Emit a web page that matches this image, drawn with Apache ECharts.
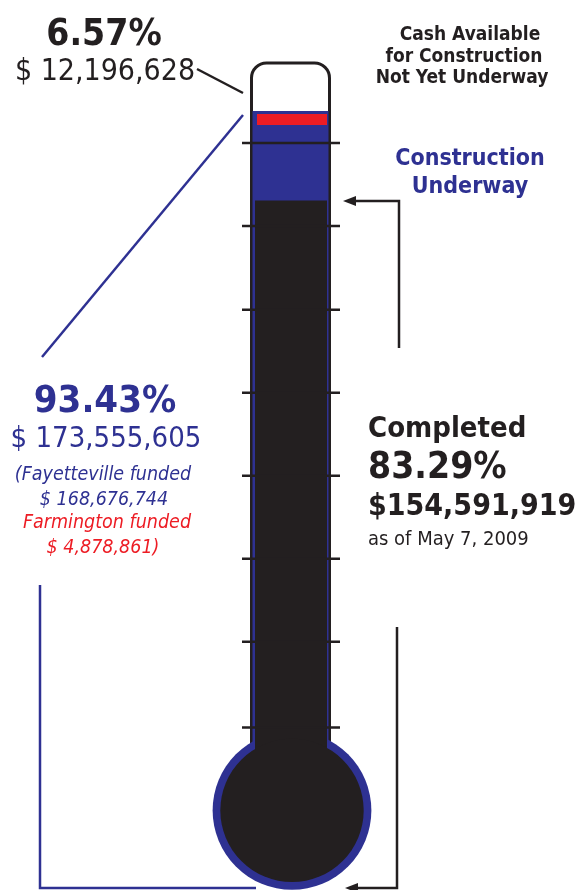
<!DOCTYPE html>
<html>
<head>
<meta charset="utf-8">
<script src="https://cdn.jsdelivr.net/npm/echarts@6/dist/echarts.min.js"></script>
<style>
  html, body { margin: 0; padding: 0; background: #fff; }
  #chart { width: 579px; height: 890px; }
</style>
</head>
<body>
<div id="chart"></div>
<script>
// fund thermometer, values in % of the total program
const categories = ["Program"];
const completedLevel = [83.29];
const underwayLevel = [93.43];
const capacityLevel = [100];
const farmingtonBand = [91.85, 93.1]; // red strip inside the underway part
const tickLevels = [23.6, 33.3, 42.7, 52.1, 61.5, 70.9, 80.4, 89.8];
const bulbLevel = [14.2];

const cashLines = ["Cash Available", "for Construction", "Not Yet Underway"];
const underwayLines = ["Construction", "Underway"];
const fundedLines = ["(Fayetteville funded", "$ 168,676,744", "Farmington funded", "$ 4,878,861)"];
const completedLines = ["Completed", "83.29%", "$154,591,919", "as of May 7, 2009"];

const BLACK = "#231f20";
const BLUE = "#2e3192";
const RED = "#ed1c24";
const FONT = "'DejaVu Sans Condensed', 'DejaVu Sans', sans-serif";

const chart = echarts.init(document.getElementById("chart"));

function band(api) {
  const xc = api.coord([0, 50])[0];
  const w = api.size([1, 0])[0];
  return { xc, w, left: xc - w / 2, right: xc + w / 2 };
}

function bulbY(api) {
  return api.coord([0, bulbLevel[0]])[1];
}

function renderTube(params, api) {
  const b = band(api);
  const top = api.coord([0, api.value(1)])[1] + 10;
  const cy = bulbY(api);
  return {
    type: "rect",
    shape: { x: b.left + 1.5, y: top, width: b.w - 3, height: cy - top, r: [15, 15, 0, 0] },
    style: { fill: "#fff", stroke: BLACK, lineWidth: 3 },
  };
}

function renderBulbRing(params, api) {
  const b = band(api);
  return {
    type: "circle",
    shape: { cx: b.xc + 1.5, cy: api.coord([0, api.value(1)])[1], r: b.w * 0.98 },
    style: { fill: BLUE },
  };
}

function renderBulbCore(params, api) {
  const b = band(api);
  return {
    type: "circle",
    shape: { cx: b.xc + 1.5, cy: api.coord([0, api.value(1)])[1], r: b.w * 0.885 },
    style: { fill: BLACK },
  };
}

function renderUnderway(params, api) {
  const b = band(api);
  const top = api.coord([0, api.value(1)])[1];
  const cy = bulbY(api);
  return {
    type: "rect",
    shape: { x: b.left + 2.5, y: top, width: b.w - 5, height: cy - top },
    style: { fill: BLUE },
  };
}

function renderCompleted(params, api) {
  const b = band(api);
  const top = api.coord([0, api.value(1)])[1];
  const cy = bulbY(api);
  return {
    type: "rect",
    shape: { x: b.left + 5, y: top, width: b.w - 9, height: cy - top },
    style: { fill: BLACK },
  };
}

function renderStrip(params, api) {
  const b = band(api);
  const y0 = api.coord([0, api.value(2)])[1];
  const y1 = api.coord([0, api.value(1)])[1];
  return {
    type: "rect",
    shape: { x: b.left + 7, y: y0, width: b.w - 11, height: y1 - y0 },
    style: { fill: RED },
  };
}

function renderTick(params, api) {
  const b = band(api);
  const y = api.coord([0, api.value(1)])[1];
  return {
    type: "line",
    shape: { x1: b.left - 8, y1: y, x2: b.right + 9, y2: y },
    style: { stroke: BLACK, lineWidth: 2.5 },
  };
}

function custom(name, data, renderItem) {
  return { type: "custom", name, data, renderItem, silent: true, clip: false };
}

function txt(text, x, y, size, opts) {
  return {
    type: "text",
    x,
    y,
    style: Object.assign(
      {
        text,
        fontFamily: FONT,
        fontSize: size,
        fontWeight: "normal",
        fill: BLACK,
        textAlign: "center",
        textVerticalAlign: "middle",
      },
      opts || {}
    ),
  };
}

function arrowLine(points, color) {
  return {
    type: "polyline",
    shape: { points },
    style: { stroke: color, lineWidth: 2.5, fill: null },
  };
}

function arrowHead(x, y) {
  return {
    type: "polygon",
    shape: { points: [[x, y], [x + 13, y - 5], [x + 13, y + 5]] },
    style: { fill: BLACK },
  };
}

chart.setOption({
  animation: false,
  grid: { left: 250, width: 81, top: 53, bottom: 0 },
  xAxis: { type: "category", data: categories, show: false },
  yAxis: { type: "value", min: 5.18, max: 100, show: false },
  series: [
    custom("Tube", [[0, capacityLevel[0]]], renderTube),
    custom("Bulb ring", [[0, bulbLevel[0]]], renderBulbRing),
    custom("Construction Underway", [[0, underwayLevel[0]]], renderUnderway),
    custom("Completed", [[0, completedLevel[0]]], renderCompleted),
    custom("Bulb", [[0, bulbLevel[0]]], renderBulbCore),
    custom("Ticks", tickLevels.map((v) => [0, v]), renderTick),
    custom("Farmington funded", [[0, farmingtonBand[0], farmingtonBand[1]]], renderStrip),
  ],
  graphic: [
    // connectors
    arrowLine([[197, 69], [243, 93]], BLACK),
    arrowLine([[243, 115], [42, 357]], BLUE),
    arrowLine([[40, 585], [40, 888], [256, 888]], BLUE),
    arrowLine([[399, 348], [399, 201], [354, 201]], BLACK),
    arrowHead(343, 201),
    arrowLine([[397, 627], [397, 888], [356, 888]], BLACK),
    arrowHead(345, 888),

    // top left
    txt("6.57%", 104, 35, 37, { fontWeight: "bold" }),
    txt("$ 12,196,628", 105, 72.5, 30),

    // top right
    txt(cashLines[0], 470, 35.5, 19, { fontWeight: "bold" }),
    txt(cashLines[1], 464, 57, 19, { fontWeight: "bold" }),
    txt(cashLines[2], 462, 78.5, 19, { fontWeight: "bold" }),
    txt(underwayLines[0], 470, 159, 23, { fontWeight: "bold", fill: BLUE }),
    txt(underwayLines[1], 470, 187, 23, { fontWeight: "bold", fill: BLUE }),

    // left funded block
    txt("93.43%", 105, 402, 38, { fontWeight: "bold", fill: BLUE }),
    txt("$ 173,555,605", 106, 439.5, 29, { fill: BLUE }),
    txt(fundedLines[0], 103, 475, 19.5, { fontStyle: "italic", fill: BLUE }),
    txt(fundedLines[1], 104, 500, 19.5, { fontStyle: "italic", fill: BLUE }),
    txt(fundedLines[2], 107, 523, 19.5, { fontStyle: "italic", fill: RED }),
    txt(fundedLines[3], 103, 548, 19.5, { fontStyle: "italic", fill: RED }),

    // right completed block
    txt(completedLines[0], 368, 429.5, 29, { fontWeight: "bold", textAlign: "left" }),
    txt(completedLines[1], 368, 468.5, 37, { fontWeight: "bold", textAlign: "left" }),
    txt(completedLines[2], 368, 507, 30, { fontWeight: "bold", textAlign: "left" }),
    txt(completedLines[3], 368, 540, 20, { textAlign: "left" }),
  ],
});
</script>
</body>
</html>
